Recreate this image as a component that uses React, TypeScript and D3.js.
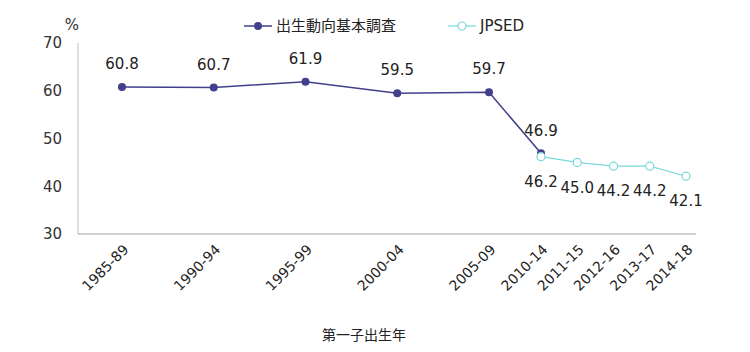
import { useEffect, useRef } from 'react';
import * as d3 from 'd3';

// 第一子出生年 (start year of each period) and labels
const periodLabels = ['1985-89', '1990-94', '1995-99', '2000-04', '2005-09', '2010-14', '2011-15', '2012-16', '2013-17', '2014-18'];
const periodStart = [1985, 1990, 1995, 2000, 2005, 2010, 2011, 2012, 2013, 2014];

// 出生動向基本調査
const surveyYears = [1985, 1990, 1995, 2000, 2005, 2010];
const surveyValues = [60.8, 60.7, 61.9, 59.5, 59.7, 46.9];

// JPSED
const jpsedYears = [2010, 2011, 2012, 2013, 2014];
const jpsedValues = [46.2, 45.0, 44.2, 44.2, 42.1];

const yTicks = [30, 40, 50, 60, 70];

const FONT = 'DejaVu Sans';
const JP_FONT = 'Noto Sans CJK JP';
const NAVY = '#423F8C';
const CYAN = '#79D9DA';

const App = () => {
    const svgRef = useRef(null);

    useEffect(() => {
        document.body.style.margin = '0';
        const width = 750;
        const height = 352;
        const margin = { top: 43, right: 54, bottom: 118, left: 78 };

        const svg = d3.select(svgRef.current)
            .attr('width', width)
            .attr('height', height);
        svg.selectAll('*').remove();

        // the original axis spaces the 5-year groups wider than the single years
        const x = d3.scaleLinear()
            .domain([1985, 2005, 2010, 2014])
            .range([margin.left + 44, margin.left + 411, margin.left + 463, width - margin.right - 10]);

        const y = d3.scaleLinear()
            .domain([30, 70])
            .range([height - margin.bottom, margin.top]);

        // axes lines
        svg.append('line')
            .attr('x1', margin.left).attr('x2', margin.left)
            .attr('y1', y(70)).attr('y2', y(30))
            .attr('stroke', '#BFBFBF').attr('stroke-width', 1);
        svg.append('line')
            .attr('x1', margin.left).attr('x2', width - margin.right)
            .attr('y1', y(30)).attr('y2', y(30))
            .attr('stroke', '#BFBFBF').attr('stroke-width', 1.5);

        // y ticks
        const yAxis = svg.append('g')
            .attr('transform', `translate(${margin.left},0)`)
            .call(d3.axisLeft(y).tickValues(yTicks).tickSize(0).tickPadding(16));
        yAxis.select('.domain').remove();
        yAxis.attr('font-family', FONT).attr('font-size', 15);
        yAxis.selectAll('text').attr('fill', '#333');

        // x tick labels
        svg.selectAll('.xlabel')
            .data(periodStart)
            .enter().append('text')
            .attr('class', 'xlabel')
            .attr('transform', d => `translate(${x(d) + 4},${y(30) + 13}) rotate(-45)`)
            .attr('text-anchor', 'end')
            .attr('dy', '0.35em')
            .attr('font-family', FONT)
            .attr('font-size', 14)
            .attr('fill', '#222')
            .text((d, i) => periodLabels[i]);

        // lines
        const line = d3.line()
            .x(d => x(d[0]))
            .y(d => y(d[1]));

        const survey = surveyYears.map((yr, i) => [yr, surveyValues[i]]);
        const jpsed = jpsedYears.map((yr, i) => [yr, jpsedValues[i]]);

        svg.append('path')
            .datum(survey)
            .attr('d', line)
            .attr('fill', 'none')
            .attr('stroke', NAVY)
            .attr('stroke-width', 1.5);

        svg.selectAll('.pt1')
            .data(survey)
            .enter().append('circle')
            .attr('class', 'pt1')
            .attr('cx', d => x(d[0]))
            .attr('cy', d => y(d[1]))
            .attr('r', 4)
            .attr('fill', NAVY);

        svg.append('path')
            .datum(jpsed)
            .attr('d', line)
            .attr('fill', 'none')
            .attr('stroke', CYAN)
            .attr('stroke-width', 1.2);

        svg.selectAll('.pt2')
            .data(jpsed)
            .enter().append('circle')
            .attr('class', 'pt2')
            .attr('cx', d => x(d[0]))
            .attr('cy', d => y(d[1]))
            .attr('r', 4)
            .attr('fill', '#fff')
            .attr('stroke', CYAN)
            .attr('stroke-width', 1.2);

        // data labels
        svg.selectAll('.lab1')
            .data(survey)
            .enter().append('text')
            .attr('class', 'lab1')
            .attr('x', d => x(d[0]))
            .attr('y', d => y(d[1]) - 23)
            .attr('dy', '0.35em')
            .attr('text-anchor', 'middle')
            .attr('font-family', FONT)
            .attr('font-size', 15)
            .attr('fill', '#222')
            .text(d => d[1].toFixed(1));

        svg.selectAll('.lab2')
            .data(jpsed)
            .enter().append('text')
            .attr('class', 'lab2')
            .attr('x', d => x(d[0]))
            .attr('y', d => y(d[1]) + 25)
            .attr('dy', '0.35em')
            .attr('text-anchor', 'middle')
            .attr('font-family', FONT)
            .attr('font-size', 15)
            .attr('fill', '#222')
            .text(d => d[1].toFixed(1));

        // unit
        svg.append('text')
            .attr('x', 72).attr('y', 25)
            .attr('dy', '0.35em')
            .attr('text-anchor', 'middle')
            .attr('font-family', FONT)
            .attr('font-size', 15)
            .attr('fill', '#333')
            .text('%');

        // legend
        const legend = svg.append('g').attr('transform', 'translate(0,26)');
        legend.append('line').attr('x1', 244).attr('x2', 272).attr('stroke', NAVY).attr('stroke-width', 1.5);
        legend.append('circle').attr('cx', 258).attr('r', 4).attr('fill', NAVY);
        legend.append('text').attr('x', 276).attr('dy', '0.35em')
            .attr('font-family', JP_FONT).attr('font-size', 15)
            .attr('fill', '#222').text('出生動向基本調査');
        legend.append('line').attr('x1', 448).attr('x2', 476).attr('stroke', CYAN).attr('stroke-width', 1.2);
        legend.append('circle').attr('cx', 462).attr('r', 4).attr('fill', '#fff').attr('stroke', CYAN).attr('stroke-width', 1.2);
        legend.append('text').attr('x', 480).attr('dy', '0.35em')
            .attr('font-family', FONT).attr('font-size', 15)
            .attr('fill', '#222').text('JPSED');

        // x axis title
        svg.append('text')
            .attr('x', 364).attr('y', 335)
            .attr('dy', '0.35em')
            .attr('text-anchor', 'middle')
            .attr('font-family', JP_FONT)
            .attr('font-size', 14)
            .attr('fill', '#222')
            .text('第一子出生年');
    }, []);

    return (
        <div>
            <svg ref={svgRef}></svg>
        </div>
    );
};

export default App;
